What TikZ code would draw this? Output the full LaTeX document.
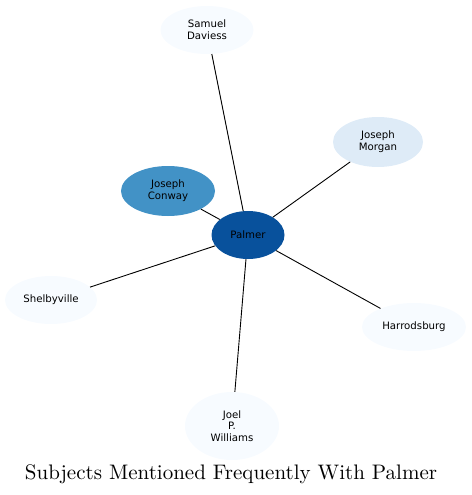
\documentclass[tikz,border=0pt]{standalone}
\usepackage{graphicx}
\usepackage{fontspec}
\newfontfamily\nodefont{DejaVu Sans}
\usetikzlibrary{shapes.geometric}
\definecolor{bDark}{HTML}{08519C}
\definecolor{bMid}{HTML}{4292C6}
\definecolor{bLight}{HTML}{DEEBF7}
\definecolor{bPale}{HTML}{F7FBFF}
\begin{document}
\begin{tikzpicture}[x=1pt,y=-1pt,
  ent/.style={ellipse, draw=none, inner sep=0pt, align=center,
    font=\nodefont\fontsize{10.2}{11.8}\selectfont, text=black},
  link/.style={draw=black, line width=0.9pt}]
\useasboundingbox (0,0) rectangle (471,495);
\node[ent, fill=bDark, minimum width=73, minimum height=48] (palmer) at (248,235) {Palmer};
\node[ent, fill=bMid, minimum width=94, minimum height=50] (conway) at (168,191) {Joseph\\Conway};
\node[ent, fill=bPale, minimum width=93, minimum height=48] (daviess) at (207,30) {Samuel\\Daviess};
\node[ent, fill=bLight, minimum width=90, minimum height=50] (morgan) at (378,142) {Joseph\\Morgan};
\node[ent, fill=bPale, minimum width=92, minimum height=48] (shelby) at (51,300) {Shelbyville};
\node[ent, fill=bPale, minimum width=104, minimum height=48] (harrods) at (414,327) {Harrodsburg};
\node[ent, fill=bPale, minimum width=94, minimum height=68] (joel) at (232,426) {Joel\\P.\\Williams};
\draw[link] (palmer) -- (daviess);
\draw[link] (palmer) -- (conway);
\draw[link] (palmer) -- (morgan);
\draw[link] (palmer) -- (shelby);
\draw[link] (palmer) -- (harrods);
\draw[link] (palmer) -- (joel);
\node[inner sep=0pt, anchor=base, font=\fontsize{10}{12}\selectfont] (title) at (231,479) {\scalebox{2.1}{Subjects Mentioned Frequently With Palmer}};
\end{tikzpicture}
\end{document}
